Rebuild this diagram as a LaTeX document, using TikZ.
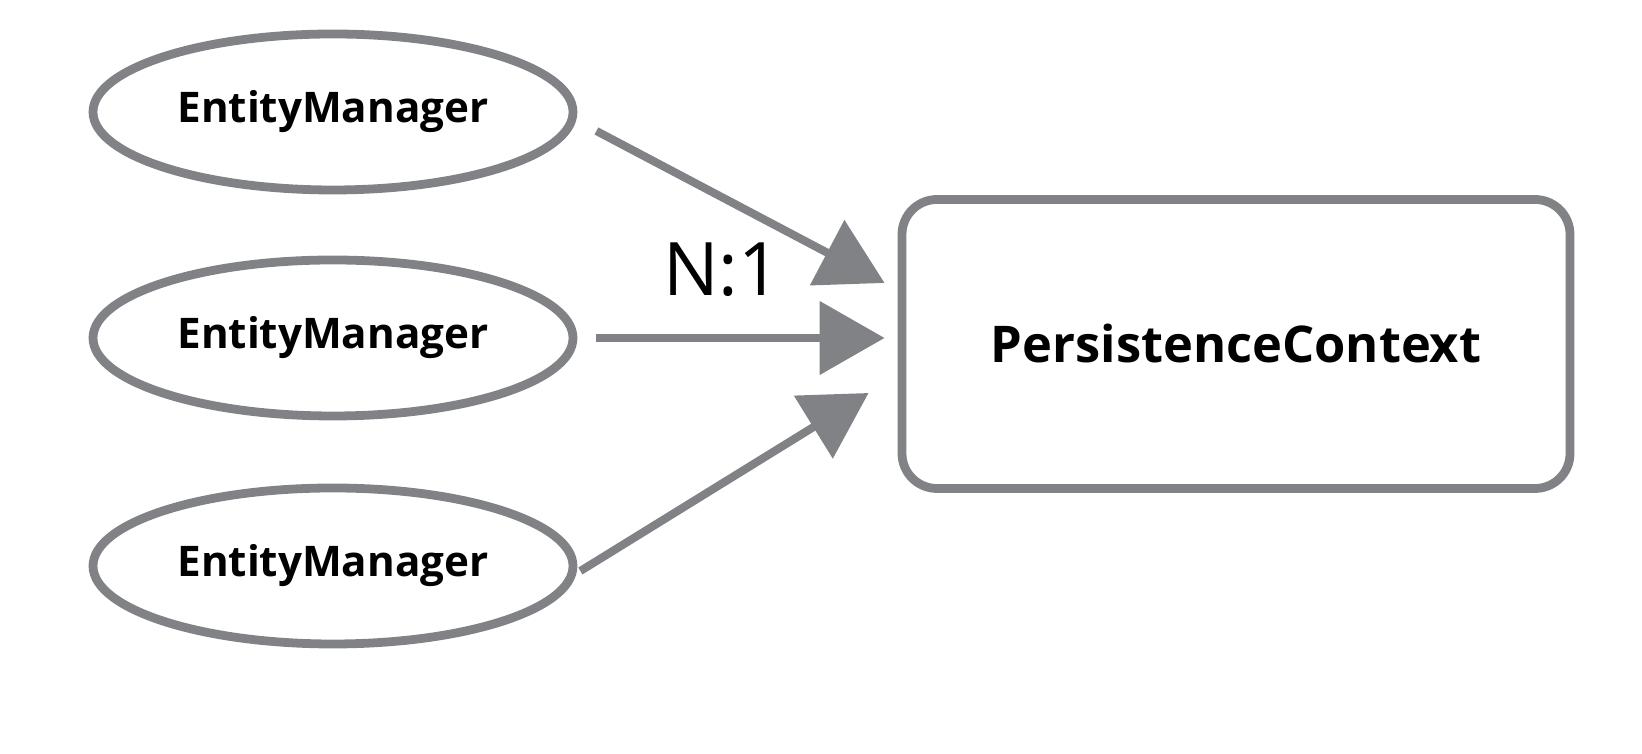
\documentclass[tikz,border=0pt]{standalone}
\usepackage{fontspec}
\setmainfont{Open Sans}
\usetikzlibrary{positioning, shapes.geometric, arrows.meta, calc}

\definecolor{sketchgray}{RGB}{128,130,134}

\begin{document}
\begin{tikzpicture}[
    manager/.style={draw=sketchgray, line width=2.5pt, ellipse, minimum width=4.80cm, minimum height=1.56cm, inner sep=0pt, font=\fontsize{12}{14}\selectfont\bfseries},
    context/.style={draw=sketchgray, line width=2.5pt, rounded corners=0.35cm, minimum width=6.68cm, minimum height=2.89cm, align=center, font=\fontsize{14.4}{17}\selectfont\bfseries},
    arrow/.style={-{Triangle[length=0.65cm, width=0.72cm]}, line width=2.3pt, draw=sketchgray},
    ratio/.style={font=\fontsize{21}{24}\selectfont}
]
    \useasboundingbox (0,0) rectangle (16.42,7.54);

    % ================= LEFT COLUMN: ENTITY MANAGERS =================
    \node[manager] (Manager1) at (3.33, 6.42) {EntityManager};
    \node[manager] (Manager2) at (3.33, 4.16) {EntityManager};
    \node[manager] (Manager3) at (3.33, 1.88) {EntityManager};

    % ================= RIGHT: SHARED CONTEXT =================
    \node[context] (Context) at (12.36, 4.10) {PersistenceContext};

    % ================= DRAW CONNECTIONS =================
    \draw[arrow] ($(Manager1.east)+(0.19,-0.19)$) -- ($(Context.west)+(-0.13,0.61)$);
    \draw[arrow] ($(Manager2.east)+(0.19,0)$) -- ($(Context.west)+(-0.13,0.06)$);
    \draw[arrow] ($(Manager3.east)+(0.03,-0.05)$) -- ($(Context.west)+(-0.29,-0.49)$);

    \node[ratio] (Ratio) at (7.22, 4.84) {N:1};

\end{tikzpicture}
\end{document}
